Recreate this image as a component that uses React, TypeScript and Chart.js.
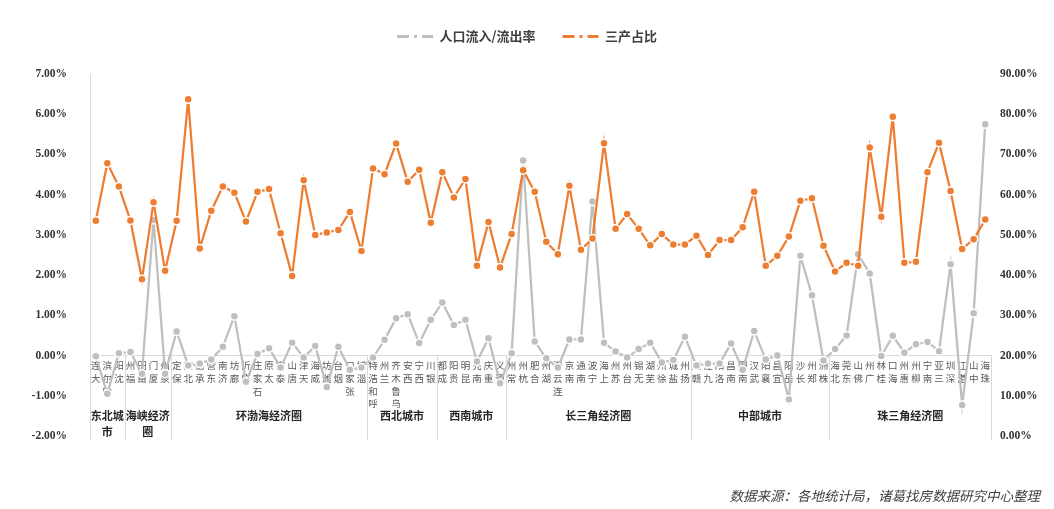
import React, { useEffect, useRef } from 'react';
import { Chart, registerables } from 'chart.js';

Chart.register(...registerables);

// ---- data ----
const cities = [
  '大连', '哈尔滨', '沈阳',
  '福州', '莆田', '厦门', '泉州',
  '保定', '北京', '承德', '东营', '济南', '廊坊', '临沂', '石家庄', '太原', '泰安', '唐山', '天津', '威海', '潍坊', '烟台', '张家口', '淄博',
  '呼和浩特', '兰州', '乌鲁木齐', '西安', '西宁', '银川',
  '成都', '贵阳', '昆明', '南充', '重庆', '遵义',
  '常州', '杭州', '合肥', '湖州', '连云港', '南京', '南通', '宁波', '上海', '苏州', '台州', '无锡', '芜湖', '徐州', '盐城', '扬州',
  '赣州', '九江', '洛阳', '南昌', '南阳', '武汉', '襄阳', '宜昌', '岳阳', '长沙', '郑州', '株洲',
  '北海', '东莞', '佛山', '广州', '桂林', '海口', '惠州', '柳州', '南宁', '三亚', '深圳', '湛江', '中山', '珠海',
];

const groupNames = ['东北城市', '海峡经济圈', '环渤海经济圈', '西北城市', '西南城市', '长三角经济圈', '中部城市', '珠三角经济圈'];
const groupSizes = [3, 4, 17, 6, 6, 16, 12, 14];

// 人口流入/流出率 (%), left axis
const migrationRate = [
  -0.02, -0.95, 0.06,
  0.09, -0.45, 3.37, -0.45,
  0.6, -0.25, -0.2, -0.1, 0.22, 0.98, -0.65, 0.04, 0.18, -0.3, 0.32, -0.05, 0.24, -0.78, 0.22, -0.35, -0.3,
  -0.05, 0.39, 0.93, 1.03, 0.31, 0.89,
  1.32, 0.76, 0.89, -0.15, 0.43, -0.69,
  0.06, 4.85, 0.35, -0.07, -0.3, 0.4, 0.4, 3.83, 0.32, 0.1, -0.05, 0.16, 0.32, -0.17, -0.11, 0.47,
  -0.25, -0.2, -0.2, 0.3, -0.35, 0.61, -0.1, 0.0, -1.09, 2.48, 1.5, -0.12,
  0.16, 0.5, 2.52, 2.04, -0.01, 0.49, 0.07, 0.28, 0.34, 0.11, 2.27, -1.23, 1.05, 5.75,
];

// 三产占比 (%), right axis
const tertiaryShare = [
  53.5, 67.8, 62.0,
  53.6, 39.0, 58.1, 41.1,
  53.5, 83.7, 46.6, 56.0, 62.0, 60.5, 53.3, 60.7, 61.4, 50.4, 39.8, 63.6, 50.0, 50.6, 51.2, 55.7, 46.0,
  66.5, 65.1, 72.7, 63.2, 66.2, 53.0,
  65.6, 59.3, 63.9, 42.3, 53.2, 41.9,
  50.2, 66.1, 60.7, 48.3, 45.2, 62.2, 46.3, 49.1, 72.8, 51.5, 55.2, 51.5, 47.4, 50.2, 47.6, 47.6,
  49.8, 45.0, 48.7, 48.7, 51.9, 60.7, 42.3, 44.8, 49.6, 58.5, 59.1, 47.3,
  40.9, 43.1, 42.3, 71.7, 54.5, 79.4, 43.1, 43.3, 65.6, 72.9, 60.9, 46.5, 48.9, 53.8,
];

const leftTicks = { min: -2, max: 7, step: 1 };
const rightTicks = { min: 0, max: 90, step: 10 };

const seriesNames = ['人口流入/流出率', '三产占比'];
const sourceNote = '数据来源：各地统计局，诸葛找房数据研究中心整理';

const GRAY = '#bfbfbf';
const ORANGE = '#ed7d31';
const CJK = '"Noto Sans CJK SC", "Noto Sans", sans-serif';
const NUM = '"Liberation Serif", "Times New Roman", "Noto Sans CJK SC", serif';

const legendSpacing = {
  id: 'legendSpacing',
  beforeInit(chart: any) {
    const legend = chart.legend;
    if (!legend) return;
    const orig = legend.fit;
    legend.fit = function () {
      orig.call(this);
      this.height = 71;
    };
  },
};

const groupPlugin = {
  id: 'groupLabels',
  afterDraw(chart: any) {
    const xs = chart.scales.x;
    const ys = chart.scales.y;
    const ctx = chart.ctx;
    const y0 = ys.getPixelForValue(0);
    const bottom = chart.chartArea.bottom + 4;
    const half = (xs.getPixelForValue(1) - xs.getPixelForValue(0)) / 2;
    const bounds: number[] = [xs.getPixelForValue(0) - half];
    let acc = 0;
    groupSizes.forEach((n) => {
      acc += n;
      bounds.push(xs.getPixelForValue(acc - 1) + half);
    });
    ctx.save();
    ctx.strokeStyle = '#d9d9d9';
    ctx.lineWidth = 1;
    bounds.forEach((bx, i) => {
      const px = Math.round(bx) + 0.5;
      ctx.beginPath();
      ctx.moveTo(px, i === 0 ? chart.chartArea.bottom : y0);
      ctx.lineTo(px, bottom);
      ctx.stroke();
    });
    ctx.font = 'bold 11px ' + CJK;
    ctx.fillStyle = '#262626';
    ctx.textAlign = 'center';
    ctx.textBaseline = 'middle';
    groupNames.forEach((name, i) => {
      const l = bounds[i];
      const r = bounds[i + 1];
      const w = r - l;
      const lines: string[] = [];
      let cur = '';
      for (const ch of Array.from(name)) {
        if (cur && ctx.measureText(cur + ch).width > w) {
          lines.push(cur);
          cur = ch;
        } else cur += ch;
      }
      lines.push(cur);
      lines.forEach((ln, j) => ctx.fillText(ln, (l + r) / 2, y0 + 60 + j * 16));
    });
    ctx.restore();
  },
};

export default function App() {
  const ref = useRef<HTMLCanvasElement | null>(null);

  useEffect(() => {
    if (!ref.current) return;
    const chart = new Chart(ref.current, {
      type: 'line',
      data: {
        labels: cities.map((c) => Array.from(c).reverse()),
        datasets: [
          {
            label: seriesNames[0],
            data: migrationRate,
            yAxisID: 'y',
            borderColor: GRAY,
            backgroundColor: GRAY,
            borderWidth: 2.25,
            pointRadius: 4,
            pointBackgroundColor: GRAY,
            pointBorderColor: '#ffffff',
            pointBorderWidth: 1.5,
            tension: 0,
            order: 1,
          },
          {
            label: seriesNames[1],
            data: tertiaryShare,
            yAxisID: 'y1',
            borderColor: ORANGE,
            backgroundColor: ORANGE,
            borderWidth: 2.25,
            pointRadius: 4,
            pointBackgroundColor: ORANGE,
            pointBorderColor: '#ffffff',
            pointBorderWidth: 1.5,
            tension: 0,
            order: 0,
          },
        ],
      },
      options: {
        responsive: false,
        animation: false,
        layout: { padding: { top: 3, bottom: 73, left: 0, right: 0 } },
        plugins: {
          tooltip: { enabled: false },
          legend: {
            display: true,
            position: 'top',
            labels: {
              usePointStyle: true,
              pointStyleWidth: 36,
              padding: 27,
              color: '#404040',
              font: { family: CJK, size: 13, weight: 'bold' },
              generateLabels: (ch: any) =>
                ch.data.datasets.map((ds: any, i: number) => ({
                  text: ds.label,
                  fillStyle: ds.borderColor,
                  strokeStyle: ds.borderColor,
                  lineWidth: 3,
                  lineDash: [12, 5, 3, 5],
                  pointStyle: 'line',
                  hidden: false,
                  datasetIndex: i,
                  fontColor: '#404040',
                })),
            },
          },
        },
        scales: {
          x: {
            type: 'category',
            offset: true,
            position: { y: 0 } as any,
            afterFit: (s: any) => {
              s.height = 0;
            },
            grid: { display: false, drawTicks: false },
            border: { display: true, color: '#d9d9d9', width: 1 },
            ticks: {
              autoSkip: false,
              maxRotation: 0,
              minRotation: 0,
              padding: 4,
              color: '#595959',
              font: { family: CJK, size: 9.5, lineHeight: 1.32 },
            },
          },
          y: {
            position: 'left',
            min: leftTicks.min,
            max: leftTicks.max,
            afterFit: (s: any) => {
              s.width = 90;
            },
            grid: { display: false, drawTicks: false },
            border: { display: true, color: '#d9d9d9', width: 1 },
            ticks: {
              stepSize: leftTicks.step,
              padding: 23,
              color: '#333333',
              font: { family: NUM, size: 11.5, weight: 'bold' },
              callback: (v: any) => Number(v).toFixed(2) + '%',
            },
          },
          y1: {
            position: 'right',
            min: rightTicks.min,
            max: rightTicks.max,
            afterFit: (s: any) => {
              s.width = 63;
            },
            grid: { display: false, drawTicks: false },
            border: { display: false },
            ticks: {
              stepSize: rightTicks.step,
              padding: 9,
              color: '#333333',
              font: { family: NUM, size: 11.5, weight: 'bold' },
              callback: (v: any) => Number(v).toFixed(2) + '%',
            },
          },
        },
      },
      plugins: [legendSpacing, groupPlugin],
    } as any);
    return () => chart.destroy();
  }, []);

  return (
    <div style={{ position: 'absolute', left: 0, top: 0, width: 1054, height: 509, background: '#ffffff', overflow: 'hidden' }}>
      <canvas ref={ref} width={1054} height={509} style={{ display: 'block', position: 'absolute', left: 0, top: 0 }} />
      <div
        style={{
          position: 'absolute',
          right: 14,
          top: 486,
          fontFamily: CJK,
          fontStyle: 'italic',
          fontSize: 13.5,
          lineHeight: '18px',
          color: '#404040',
          whiteSpace: 'nowrap',
        }}
      >
        {sourceNote}
      </div>
    </div>
  );
}
